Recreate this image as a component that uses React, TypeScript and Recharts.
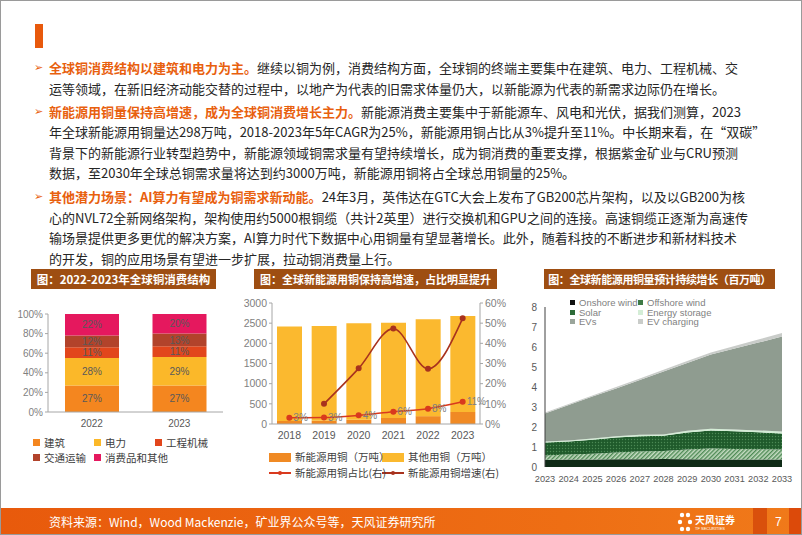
import React from 'react';
import { BarChart, Bar, XAxis, YAxis, LabelList, ComposedChart, Line, AreaChart, Area } from 'recharts';

const CJK = '"Noto Sans CJK SC", "Liberation Sans", sans-serif';
const SANS = '"Liberation Sans", Arial, "Noto Sans CJK SC", sans-serif';

// chart 1: 2022-2023 global copper consumption structure (%)
const mixYears = ['2022', '2023'];
const mixNames = ['建筑', '电力', '工程机械', '交通运输', '消费品和其他'];
const mixKeys = ['build', 'power', 'machine', 'transport', 'consumer'];
const mixColors = ['#F4861F', '#FBB829', '#E2461C', '#B2432B', '#E5185E'];
const build = [27, 27];
const power = [28, 29];
const machine = [11, 11];
const transport = [12, 13];
const consumer = [22, 20];

// chart 2: new energy copper (10k t) and share / growth (%)
const nevYears = ['2018', '2019', '2020', '2021', '2022', '2023'];
const nevCopper = [75, 80, 105, 150, 195, 298];
const otherCopper = [2345, 2350, 2395, 2360, 2400, 2380];
const nevShare = [3.1, 3.2, 4.3, 6.1, 7.6, 11.0];
const nevGrowth = [null, 10.0, 27.6, 47.3, 27.4, 52.4];
const nevNames = ['新能源用铜（万吨）', '其他用铜（万吨）', '新能源用铜占比(右)', '新能源用铜增速(右)'];
const nevColors = ['#F08A24', '#FBB92F', '#D93A1E', '#A8321E'];

// chart 3: new energy copper demand forecast (Mt)
const fcYears = ['2023', '2024', '2025', '2026', '2027', '2028', '2029', '2030', '2031', '2032', '2033'];
const onshore = [0.36, 0.37, 0.38, 0.39, 0.39, 0.40, 0.39, 0.38, 0.37, 0.37, 0.37];
const offshore = [0.22, 0.25, 0.28, 0.33, 0.38, 0.40, 0.48, 0.55, 0.53, 0.52, 0.50];
const solar = [0.64, 0.66, 0.70, 0.76, 0.77, 0.76, 0.86, 0.90, 0.89, 0.85, 0.81];
const storage = [0.05, 0.05, 0.06, 0.06, 0.07, 0.07, 0.08, 0.08, 0.08, 0.09, 0.09];
const evs = [1.41, 1.77, 2.10, 2.39, 2.74, 3.14, 3.39, 3.71, 4.05, 4.39, 4.75];
const evCharging = [0.04, 0.05, 0.06, 0.07, 0.08, 0.09, 0.10, 0.11, 0.13, 0.15, 0.18];
const fcNames = ['Onshore wind', 'Offshore wind', 'Solar', 'Energy storage', 'EVs', 'EV charging'];
const fcKeys = ['onshore', 'offshore', 'solar', 'storage', 'evs', 'charging'];
const fcFills = ['#0F2B17', 'url(#hatch)', 'url(#dots)', '#D4EDD6', '#8F9C90', '#C9CCC9'];
const fcSwatch = ['#111', '#3F7A45', '#2D6B38', '#D4EDD6', '#9AA59B', '#C9CCC9'];

const mixData = mixYears.map((year, i) => ({
  year,
  build: build[i],
  power: power[i],
  machine: machine[i],
  transport: transport[i],
  consumer: consumer[i],
}));

const nevData = nevYears.map((year, i) => ({
  year,
  nev: nevCopper[i],
  other: otherCopper[i],
  share: nevShare[i],
  growth: nevGrowth[i],
}));

const fcData = fcYears.map((year, i) => ({
  year,
  onshore: onshore[i],
  offshore: offshore[i],
  solar: solar[i],
  storage: storage[i],
  evs: evs[i],
  charging: evCharging[i],
}));

const paragraphs = [
  {
    lead: '全球铜消费结构以建筑和电力为主。',
    lines: [
      '继续以铜为例，消费结构方面，全球铜的终端主要集中在建筑、电力、工程机械、交',
      '运等领域，在新旧经济动能交替的过程中，以地产为代表的旧需求体量仍大，以新能源为代表的新需求边际仍在增长。',
    ],
    tops: [67, 88],
  },
  {
    lead: '新能源用铜量保持高增速，成为全球铜消费增长主力。',
    lines: [
      '新能源消费主要集中于新能源车、风电和光伏，据我们测算，2023',
      '年全球新能源用铜量达298万吨，2018-2023年5年CAGR为25%，新能源用铜占比从3%提升至11%。中长期来看，在“双碳”',
      '背景下的新能源行业转型趋势中，新能源领域铜需求量有望持续增长，成为铜消费的重要支撑，根据紫金矿业与CRU预测',
      '数据，至2030年全球总铜需求量将达到约3000万吨，新能源用铜将占全球总用铜量的25%。',
    ],
    tops: [111, 131, 152, 172],
  },
  {
    lead: '其他潜力场景：AI算力有望成为铜需求新动能。',
    lines: [
      '24年3月，英伟达在GTC大会上发布了GB200芯片架构，以及以GB200为核',
      '心的NVL72全新网络架构，架构使用约5000根铜缆（共计2英里）进行交换机和GPU之间的连接。高速铜缆正逐渐为高速传',
      '输场景提供更多更优的解决方案，AI算力时代下数据中心用铜量有望显著增长。此外，随着科技的不断进步和新材料技术',
      '的开发，铜的应用场景有望进一步扩展，拉动铜消费量上行。',
    ],
    tops: [196, 217, 237, 258],
  },
];

const titleBar = (left: number, width: number, text: string, fontSize = 11.5, spacing = 0) => (
  <div
    style={{
      position: 'absolute',
      left,
      top: 268,
      width,
      height: 20,
      background: '#9E4E12',
      color: '#fff',
      fontFamily: CJK,
      fontWeight: 700,
      fontSize,
      letterSpacing: spacing,
      lineHeight: '20px',
      textAlign: 'center',
      whiteSpace: 'nowrap',
      overflow: 'hidden',
    }}
  >
    {text}
  </div>
);

const legendItem = (left: number, top: number, color: string, label: string, size = 8) => (
  <div key={label + left + top} style={{ position: 'absolute', left, top, display: 'flex', alignItems: 'center', whiteSpace: 'nowrap' }}>
    <span style={{ display: 'inline-block', width: size, height: size, background: color, marginRight: 4 }} />
    <span>{label}</span>
  </div>
);

const App: React.FC = () => {
  const tickStyle = { fontSize: 10, fill: '#7F7F7F', fontFamily: SANS };
  return (
    <div
      style={{
        position: 'fixed',
        left: 0,
        top: 0,
        width: 802,
        height: 535,
        background: '#fff',
        overflow: 'hidden',
        boxSizing: 'border-box',
        border: '1px solid #9a9a9a',
      }}
    >
      <div style={{ position: 'absolute', left: 34, top: 23, width: 8, height: 24, background: '#E8590C' }} />

      {paragraphs.map((p, pi) => (
        <React.Fragment key={pi}>
          <div style={{ position: 'absolute', left: 33, top: p.tops[0] - 10, fontSize: 11, lineHeight: '20px', color: '#E8600E', fontFamily: '"DejaVu Sans", sans-serif' }}>
            ➢
          </div>
          {p.lines.map((line, li) => (
            <div
              key={li}
              style={{
                position: 'absolute',
                left: 48,
                top: p.tops[li] - 10,
                height: 20,
                lineHeight: '20px',
                fontSize: 13,
                fontFamily: CJK,
                color: '#262626',
                whiteSpace: 'nowrap',
              }}
            >
              {li === 0 && <span style={{ color: '#E8600E', fontWeight: 700 }}>{p.lead}</span>}
              {line}
            </div>
          ))}
        </React.Fragment>
      ))}

      {titleBar(30, 185, '图：2022-2023年全球铜消费结构', 11.5)}
      {titleBar(253, 243, '图：全球新能源用铜保持高增速，占比明显提升', 11)}
      {titleBar(543, 231, '图：全球新能源用铜量预计持续增长（百万吨）', 11, -0.4)}

      {/* chart 1 */}
      <div style={{ position: 'absolute', left: 7, top: 305 }}>
        <BarChart width={223} height={126} data={mixData} margin={{ top: 8, right: 8, left: 0, bottom: 0 }} barSize={54}>
          <XAxis dataKey="year" height={20} axisLine={{ stroke: '#A6A6A6' }} tickLine={false} tick={{ ...tickStyle, fill: '#595959' }} />
          <YAxis
            width={40}
            domain={[0, 100]}
            ticks={[0, 20, 40, 60, 80, 100]}
            tickFormatter={(v: number) => v + '%'}
            axisLine={{ stroke: '#A6A6A6' }}
            tickLine={{ stroke: '#A6A6A6' }}
            tickSize={3}
            tick={tickStyle}
          />
          {mixKeys.map((k, i) => (
            <Bar key={k} dataKey={k} stackId="m" fill={mixColors[i]} isAnimationActive={false}>
              <LabelList dataKey={k} position="center" formatter={(v: number) => v + '%'} style={{ fontSize: 10, fill: '#595959', fontFamily: SANS }} />
            </Bar>
          ))}
        </BarChart>
      </div>
      <div style={{ position: 'absolute', left: 0, top: 0, fontSize: 10.5, fontFamily: CJK, color: '#404040' }}>
        {mixNames.slice(0, 3).map((n, i) => legendItem(32 + i * 61, 434, mixColors[i], n, 7))}
        {mixNames.slice(3).map((n, i) => legendItem(32 + i * 61, 449, mixColors[i + 3], n, 7))}
      </div>

      {/* chart 2 */}
      <div style={{ position: 'absolute', left: 225, top: 294 }}>
        <ComposedChart width={284} height={151} data={nevData} margin={{ top: 8, right: 0, left: 0, bottom: 0 }} barSize={25}>
          <XAxis dataKey="year" height={22} axisLine={{ stroke: '#A6A6A6' }} tickLine={false} tick={{ ...tickStyle, fontSize: 10.5, fill: '#595959' }} />
          <YAxis
            yAxisId="l"
            width={46}
            domain={[0, 3000]}
            ticks={[0, 500, 1000, 1500, 2000, 2500, 3000]}
            axisLine={{ stroke: '#A6A6A6' }}
            tickLine={{ stroke: '#A6A6A6' }}
            tickSize={3}
            tick={{ ...tickStyle, fontSize: 10.5 }}
          />
          <YAxis
            yAxisId="r"
            orientation="right"
            width={30}
            domain={[0, 60]}
            ticks={[0, 10, 20, 30, 40, 50, 60]}
            tickFormatter={(v: number) => v + '%'}
            axisLine={{ stroke: '#A6A6A6' }}
            tickLine={{ stroke: '#A6A6A6' }}
            tickSize={3}
            tick={{ ...tickStyle, fontSize: 10.5 }}
          />
          <Bar yAxisId="l" dataKey="nev" stackId="c" fill={nevColors[0]} isAnimationActive={false} />
          <Bar yAxisId="l" dataKey="other" stackId="c" fill={nevColors[1]} isAnimationActive={false} />
          <Line
            yAxisId="r"
            type="monotone"
            dataKey="growth"
            stroke={nevColors[3]}
            strokeWidth={1.6}
            dot={{ r: 2.2, fill: nevColors[3], stroke: nevColors[3] }}
            isAnimationActive={false}
          />
          <Line
            yAxisId="r"
            type="monotone"
            dataKey="share"
            stroke={nevColors[2]}
            strokeWidth={1.6}
            dot={{ r: 2.2, fill: nevColors[2], stroke: nevColors[2] }}
            isAnimationActive={false}
          >
            <LabelList dataKey="share" position="right" offset={4} formatter={(v: number) => Math.round(v) + '%'} style={{ fontSize: 10, fill: '#7F7F7F', fontFamily: SANS }} />
          </Line>
        </ComposedChart>
      </div>
      <div style={{ position: 'absolute', left: 0, top: 0, fontSize: 10.5, fontFamily: CJK, color: '#404040' }}>
        <div style={{ position: 'absolute', left: 268, top: 452, width: 22, height: 9, background: nevColors[0] }} />
        <div style={{ position: 'absolute', left: 381, top: 452, width: 22, height: 9, background: nevColors[1] }} />
        <div style={{ position: 'absolute', left: 294, top: 448, whiteSpace: 'nowrap' }}>{nevNames[0]}</div>
        <div style={{ position: 'absolute', left: 407, top: 448, whiteSpace: 'nowrap' }}>{nevNames[1]}</div>
        <div style={{ position: 'absolute', left: 268, top: 471, width: 22, height: 2, background: nevColors[2] }} />
        <div style={{ position: 'absolute', left: 277, top: 470, width: 4, height: 4, borderRadius: 2, background: nevColors[2] }} />
        <div style={{ position: 'absolute', left: 381, top: 471, width: 22, height: 2, background: nevColors[3] }} />
        <div style={{ position: 'absolute', left: 390, top: 470, width: 4, height: 4, borderRadius: 2, background: nevColors[3] }} />
        <div style={{ position: 'absolute', left: 294, top: 464, whiteSpace: 'nowrap' }}>{nevNames[2]}</div>
        <div style={{ position: 'absolute', left: 407, top: 464, whiteSpace: 'nowrap' }}>{nevNames[3]}</div>
      </div>

      {/* chart 3 */}
      <div style={{ position: 'absolute', left: 500, top: 296 }}>
        <AreaChart width={297} height={188} data={fcData} margin={{ top: 10, right: 16, left: 0, bottom: 0 }}>
          <defs>
            <pattern id="hatch" width="3" height="3" patternUnits="userSpaceOnUse" patternTransform="rotate(45)">
              <rect width="3" height="3" fill="#C5DCC2" />
              <rect width="1.4" height="3" fill="#4E8A55" />
            </pattern>
            <pattern id="dots" width="3" height="3" patternUnits="userSpaceOnUse">
              <rect width="3" height="3" fill="#1F5A2B" />
              <circle cx="1.5" cy="1.5" r="0.7" fill="#4C8A55" />
            </pattern>
          </defs>
          <XAxis dataKey="year" height={18} axisLine={false} tickLine={false} interval={0} tick={{ fontSize: 9.2, fill: '#595959', fontFamily: SANS }} tickMargin={2} />
          <YAxis
            width={44}
            domain={[0, 8]}
            ticks={[0, 1, 2, 3, 4, 5, 6, 7, 8]}
            axisLine={{ stroke: '#404040' }}
            tickLine={false}
            tick={{ fontSize: 10, fill: '#595959', fontFamily: SANS }}
          />
          {fcKeys.map((k, i) => (
            <Area
              key={k}
              type="linear"
              dataKey={k}
              stackId="f"
              stroke="none"
              fill={fcFills[i]}
              fillOpacity={1}
              isAnimationActive={false}
            />
          ))}
        </AreaChart>
      </div>
      <div style={{ position: 'absolute', left: 0, top: 0, fontSize: 9.5, fontFamily: SANS, color: '#7F7F7F' }}>
        {fcNames.map((n, i) => legendItem(569 + (i % 2) * 68, 296 + Math.floor(i / 2) * 9.5, fcSwatch[i], n, 5))}
      </div>

      {/* footer */}
      <div style={{ position: 'absolute', left: 0, top: 507, width: 802, height: 28, background: 'linear-gradient(90deg, #E85A0C 0%, #EE6E14 70%, #F07A1A 100%)' }} />
      <div style={{ position: 'absolute', left: 752, top: 507, width: 14, height: 28, background: '#D9500C' }} />
      <div style={{ position: 'absolute', left: 788, top: 507, width: 14, height: 28, background: '#DC4A0A' }} />
      <div style={{ position: 'absolute', left: 48, top: 512, height: 18, lineHeight: '18px', fontSize: 12, color: '#fff', fontFamily: CJK, whiteSpace: 'nowrap' }}>
        资料来源：Wind，Wood Mackenzie，矿业界公众号等，天风证券研究所
      </div>
      <svg style={{ position: 'absolute', left: 676, top: 510 }} width={16} height={22}>
        <circle cx={5} cy={4} r={2.2} fill="#fff" />
        <circle cx={11} cy={4} r={2.2} fill="#fff" />
        <circle cx={3} cy={11} r={2.2} fill="#fff" />
        <circle cx={13} cy={11} r={2.2} fill="#fff" />
        <circle cx={5} cy={18} r={2.2} fill="#fff" />
        <circle cx={11} cy={18} r={2.2} fill="#fff" />
      </svg>
      <div style={{ position: 'absolute', left: 694, top: 513, fontSize: 10, lineHeight: '12px', color: '#fff', fontFamily: CJK, fontWeight: 700, whiteSpace: 'nowrap' }}>
        天风证券
      </div>
      <div style={{ position: 'absolute', left: 694, top: 525, fontSize: 4, lineHeight: '5px', color: '#fff', fontFamily: SANS, whiteSpace: 'nowrap' }}>
        TF SECURITIES
      </div>
      <div style={{ position: 'absolute', left: 774, top: 512, fontSize: 12, lineHeight: '18px', color: '#fff', fontFamily: SANS }}>7</div>
    </div>
  );
};

export default App;
